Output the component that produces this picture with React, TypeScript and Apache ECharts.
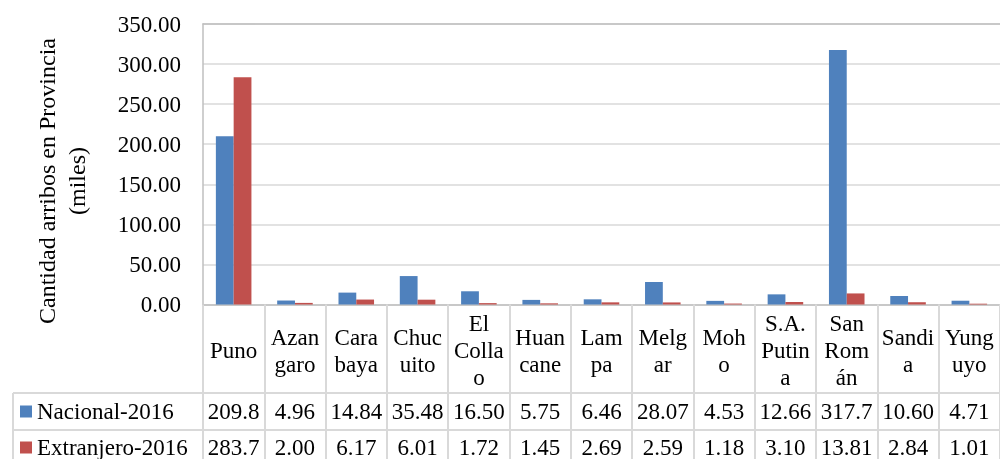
import React, { useEffect, useRef } from "react";
import * as echarts from "echarts";

const categories = ["Puno", "Azan\ngaro", "Cara\nbaya", "Chuc\nuito", "El\nColla\no", "Huan\ncane", "Lam\npa", "Melg\nar", "Moh\no", "S.A.\nPutin\na", "San\nRom\nán", "Sandi\na", "Yung\nuyo"];
const nacional2016 = [209.8, 4.96, 14.84, 35.48, 16.5, 5.75, 6.46, 28.07, 4.53, 12.66, 317.7, 10.6, 4.71];
const extranjero2016 = [283.7, 2.0, 6.17, 6.01, 1.72, 1.45, 2.69, 2.59, 1.18, 3.1, 13.81, 2.84, 1.01];
const seriesNames = ["Nacional-2016", "Extranjero-2016"];
const yTicks = { min: 0, max: 350, interval: 50 };

const FONT = "Liberation Serif";
const GRID_C = "#D9D9D9";
const AXIS_C = "#BFBFBF";

const fmt = (v: number) => (v >= 100 ? v.toFixed(1) : v.toFixed(2));

function buildOption() {
  const baseX = {
    type: "category" as const,
    data: categories,
    gridIndex: 0,
    position: "bottom" as const,
    boundaryGap: true,
    splitLine: { show: false },
  };
  const legendBase = {
    orient: "horizontal" as const,
    left: 20,
    padding: 0,
    itemWidth: 12,
    itemHeight: 12,
    icon: "rect",
    textStyle: { fontFamily: FONT, fontSize: 23, color: "#000", lineHeight: 23 },
  };
  const valueLabel = (arr: number[], margin: number) => ({
    interval: 0,
    fontFamily: FONT,
    fontSize: 23,
    color: "#000",
    margin,
    verticalAlign: "middle",
    formatter: (_: string, i: number) => fmt(arr[i]),
  });
  return {
    animation: false,
    grid: { left: 203, top: 24, width: 798, bottom: 154, containLabel: false },
    legend: [
      { ...legendBase, top: 400, data: [seriesNames[0]] },
      { ...legendBase, top: 436, data: [seriesNames[1]] },
    ],
    xAxis: [
      {
        ...baseX,
        axisLine: { show: true, lineStyle: { color: AXIS_C, width: 1.5 } },
        axisTick: { show: true, interval: 0, length: 160, lineStyle: { color: GRID_C, width: 2 } },
        axisLabel: {
          interval: 0,
          fontFamily: FONT,
          fontSize: 23,
          lineHeight: 27,
          color: "#000",
          margin: 46,
          verticalAlign: "middle",
        },
      },
      {
        ...baseX,
        offset: 88,
        axisLine: { show: true, lineStyle: { color: GRID_C, width: 2 } },
        axisTick: { show: false },
        axisLabel: valueLabel(nacional2016, 19),
      },
      {
        ...baseX,
        offset: 125,
        axisLine: { show: true, lineStyle: { color: GRID_C, width: 2 } },
        axisTick: { show: false },
        axisLabel: valueLabel(extranjero2016, 18),
      },
      {
        ...baseX,
        position: "top",
        axisLine: { show: true, lineStyle: { color: AXIS_C, width: 1.5 } },
        axisTick: { show: false },
        axisLabel: { show: false },
      },
    ],
    yAxis: {
      type: "value",
      min: yTicks.min,
      max: yTicks.max,
      interval: yTicks.interval,
      axisLine: { show: true, lineStyle: { color: AXIS_C, width: 1.5 } },
      axisTick: { show: false },
      splitLine: { show: true, lineStyle: { color: GRID_C, width: 1.5 } },
      axisLabel: {
        fontFamily: FONT,
        fontSize: 23,
        color: "#000",
        margin: 22,
        formatter: (v: number) => v.toFixed(2),
      },
    },
    series: [
      {
        name: seriesNames[0],
        type: "bar",
        xAxisIndex: 0,
        data: nacional2016,
        itemStyle: { color: "#4F81BD" },
        barGap: "0%",
        barCategoryGap: "42%",
      },
      {
        name: seriesNames[1],
        type: "bar",
        xAxisIndex: 0,
        data: extranjero2016,
        itemStyle: { color: "#C0504D" },
        barGap: "0%",
        barCategoryGap: "42%",
      },
    ],
    graphic: [
      {
        type: "text",
        x: 47,
        y: 181,
        rotation: Math.PI / 2,
        style: {
          text: "Cantidad arribos en Provincia",
          fontFamily: FONT,
          fontSize: 24,
          fill: "#000",
          align: "center",
          verticalAlign: "middle",
        },
      },
      {
        type: "text",
        x: 77,
        y: 181,
        rotation: Math.PI / 2,
        style: {
          text: "(miles)",
          fontFamily: FONT,
          fontSize: 24,
          fill: "#000",
          align: "center",
          verticalAlign: "middle",
        },
      },
      { type: "line", shape: { x1: 13, y1: 393, x2: 203, y2: 393 }, style: { stroke: GRID_C, lineWidth: 2 } },
      { type: "line", shape: { x1: 13, y1: 430, x2: 203, y2: 430 }, style: { stroke: GRID_C, lineWidth: 2 } },
      { type: "line", shape: { x1: 13, y1: 393, x2: 13, y2: 470 }, style: { stroke: GRID_C, lineWidth: 2 } },
    ],
  };
}

export default function App() {
  const ref = useRef<HTMLDivElement>(null);
  useEffect(() => {
    if (!ref.current) return;
    const chart = echarts.init(ref.current, null, { renderer: "svg" });
    chart.setOption(buildOption());
    const fonts: any = (document as any).fonts;
    if (fonts && fonts.load) {
      fonts
        .load('23px "Liberation Serif"')
        .then(() => {
          if (!chart.isDisposed()) chart.setOption(buildOption(), true);
        })
        .catch(() => {});
    }
    return () => chart.dispose();
  }, []);
  return (
    <div
      ref={ref}
      style={{ position: "fixed", left: 0, top: 0, width: 1000, height: 459 }}
    />
  );
}
